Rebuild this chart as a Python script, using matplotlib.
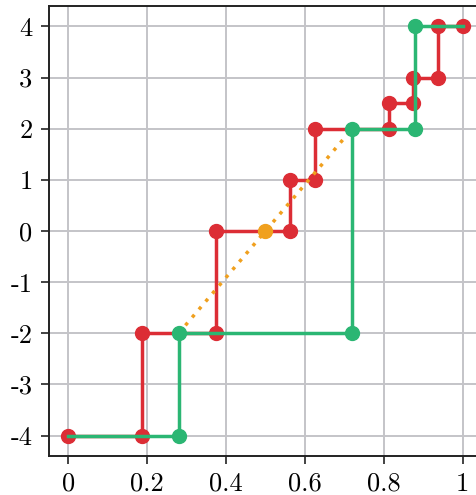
import matplotlib
matplotlib.use('Agg')
import matplotlib.pyplot as plt

# red staircase
red_x = [0, 0.1875, 0.1875, 0.375, 0.375, 0.5625, 0.5625, 0.625, 0.625,
         0.8125, 0.8125, 0.875, 0.875, 0.9375, 0.9375, 1]
red_y = [-4, -4, -2, -2, 0, 0, 1, 1, 2, 2, 2.5, 2.5, 3, 3, 4, 4]

# green staircase (no markers at the two ends)
green_x = [0, 0.28, 0.28, 0.72, 0.72, 0.88, 0.88, 1]
green_y = [-4, -4, -2, -2, 2, 2, 4, 4]

# orange dotted segment and its midpoint
orange_x = [0.28, 0.72]
orange_y = [-2, 2]
mid_x = [0.5]
mid_y = [0]

xticks = [0, 0.2, 0.4, 0.6, 0.8, 1]
xlabels = ['0', '0.2', '0.4', '0.6', '0.8', '1']
yticks = [-4, -3, -2, -1, 0, 1, 2, 3, 4]
ylabels = ['-4', '-3', '-2', '-1', '0', '1', '2', '3', '4']

red = '#dc2d35'
green = '#2bb673'
orange = '#f0a01e'

plt.rcParams['font.family'] = 'cmr10'

fig = plt.figure(figsize=(4.76, 4.95), dpi=100)
ax = fig.add_axes([0.1019, 0.0788, 0.9115, 0.909])

ax.plot(red_x, red_y, color=red, lw=2.5, marker='o', ms=10, zorder=3)
ax.plot(orange_x, orange_y, color=orange, lw=2.5, ls=(0, (1, 2)), zorder=3)
ax.plot(mid_x, mid_y, color=orange, marker='o', ms=10, ls='none', zorder=4)
ax.plot(green_x, green_y, color=green, lw=2.5, marker='o', ms=10,
        markevery=list(range(1, len(green_x) - 1)), zorder=5)

ax.set_xlim(-0.05, 1.05)
ax.set_ylim(-4.4, 4.4)
ax.set_xticks(xticks, xlabels)
ax.set_yticks(yticks, ylabels)
ax.tick_params(labelsize=19, length=5.5, width=1.2, color='#222222', pad=6)
ax.grid(True, color='#c4c4c8', lw=1.4)
ax.set_axisbelow(True)
for s in ax.spines.values():
    s.set_linewidth(1.4)
    s.set_color('#222222')

fig.savefig('out.png', dpi=100)
